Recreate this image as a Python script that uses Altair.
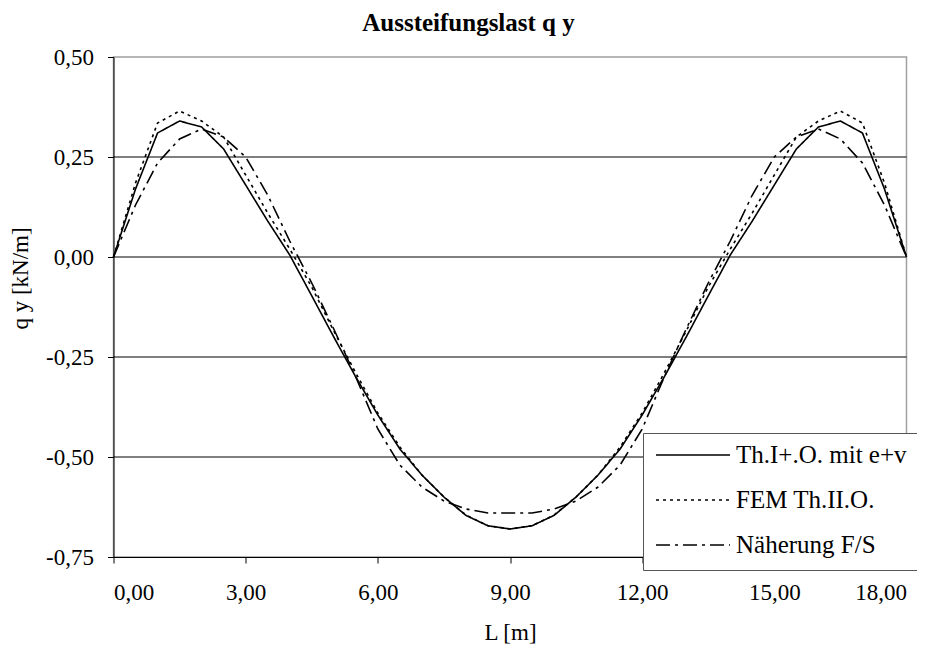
import altair as alt
import pandas as pd

# ---- data ----
x_m = [0.0, 0.5, 1.0, 1.5, 2.0, 2.5, 3.0, 3.5, 4.0, 4.5, 5.0, 5.5, 6.0, 6.5, 7.0, 7.5, 8.0, 8.5, 9.0,
       9.5, 10.0, 10.5, 11.0, 11.5, 12.0, 12.5, 13.0, 13.5, 14.0, 14.5, 15.0, 15.5, 16.0, 16.5, 17.0, 17.5, 18.0]

q_th1 = [0.0, 0.17, 0.31, 0.34, 0.325, 0.27, 0.18, 0.09, 0.005, -0.097, -0.20, -0.30, -0.395, -0.48, -0.545, -0.60, -0.646, -0.672, -0.68,
         -0.672, -0.646, -0.60, -0.545, -0.48, -0.395, -0.30, -0.20, -0.097, 0.005, 0.09, 0.18, 0.27, 0.325, 0.34, 0.31, 0.17, 0.0]

q_fem = [0.0, 0.185, 0.335, 0.365, 0.34, 0.30, 0.205, 0.11, 0.02, -0.075, -0.185, -0.29, -0.39, -0.475, -0.545, -0.60, -0.645, -0.672, -0.68,
         -0.672, -0.645, -0.60, -0.545, -0.475, -0.39, -0.29, -0.185, -0.075, 0.02, 0.11, 0.205, 0.30, 0.34, 0.365, 0.335, 0.185, 0.0]

q_naeh = [0.0, 0.13, 0.235, 0.295, 0.32, 0.30, 0.25, 0.155, 0.04, -0.065, -0.18, -0.30, -0.43, -0.52, -0.575, -0.61, -0.63, -0.64, -0.64,
          -0.64, -0.63, -0.61, -0.575, -0.52, -0.43, -0.30, -0.18, -0.065, 0.04, 0.155, 0.25, 0.30, 0.32, 0.295, 0.235, 0.13, 0.0]

series_names = ["Th.I+.O. mit e+v", "FEM Th.II.O.", "Näherung F/S"]
y_ticks = [-0.75, -0.5, -0.25, 0.0, 0.25, 0.5]
x_ticks = [0, 3, 6, 9, 12, 15, 18]
grid_vals = [-0.5, -0.25, 0.0, 0.25]

rows = []
for name, vals in zip(series_names, [q_th1, q_fem, q_naeh]):
    for xv, qv in zip(x_m, vals):
        rows.append({"x": xv, "q": qv, "Serie": name})
df = pd.DataFrame(rows)
grid_df = pd.DataFrame({"g": grid_vals})

FONT = "Liberation Serif"
fmt = "(datum.value < 0 ? '-' : '') + replace(format(abs(datum.value), '.2f'), '.', ',')"

xscale = alt.Scale(domain=[0, 18], nice=False, zero=False)
yscale = alt.Scale(domain=[-0.75, 0.5], nice=False, zero=False)

grid = alt.Chart(grid_df).mark_rule(color="black", strokeWidth=1).encode(
    y=alt.Y("g:Q", scale=yscale)
)

lines = alt.Chart(df).mark_line(color="black", strokeWidth=1.6).encode(
    x=alt.X("x:Q", scale=xscale,
            axis=alt.Axis(values=x_ticks, labelExpr=fmt, title="L [m]", grid=False,
                          tickSize=6, labelPadding=18, titleY=82, titleBaseline="alphabetic")),
    y=alt.Y("q:Q", scale=yscale,
            axis=alt.Axis(values=y_ticks, labelExpr=fmt, title="q y [kN/m]", grid=False,
                          tickSize=6, labelPadding=14, titleX=-86, titleY=221,
                          titleBaseline="alphabetic", titleAngle=-90)),
    strokeDash=alt.StrokeDash(
        "Serie:N",
        scale=alt.Scale(domain=series_names, range=[[1, 0], [3, 4], [14, 5, 3, 5]]),
        legend=alt.Legend(title=None, orient="none", legendX=529.5, legendY=376,
                          direction="vertical", fillColor="white", strokeColor="#555555",
                          padding=12, symbolType="stroke", symbolSize=5476,
                          symbolStrokeWidth=1.6, symbolStrokeColor="black",
                          labelFont=FONT, labelFontSize=25, labelColor="black",
                          labelOffset=5, rowPadding=20, clipHeight=20, labelLimit=400),
    ),
    order=alt.Order("x:Q"),
    detail="Serie:N",
)

chart = alt.layer(grid, lines).properties(
    width=793,
    height=500,
    autosize=alt.AutoSizeParams(type="none"),
    padding={"left": 105.5, "top": 49, "right": 10, "bottom": 88},
    title=alt.TitleParams("Aussteifungslast q y", font=FONT, fontSize=25, fontWeight="bold",
                          anchor="middle", dx=-41.5, offset=10, color="black"),
).configure_view(
    stroke="#a0a0a0", strokeWidth=1.5
).configure_axis(
    domainColor="black", domainWidth=1, tickColor="black", tickWidth=1,
    labelFont=FONT, labelFontSize=23, labelColor="black",
    titleFont=FONT, titleFontSize=23, titleColor="black", titleFontWeight="normal"
)

chart.save("out.html", embed_options={"renderer": "svg", "actions": False})
